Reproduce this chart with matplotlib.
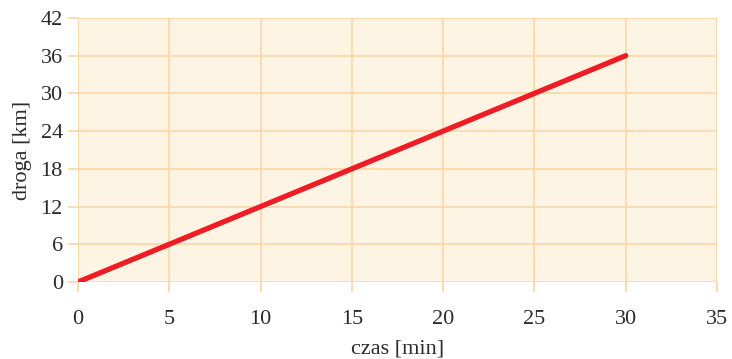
import matplotlib
matplotlib.use("Agg")
import matplotlib.pyplot as plt

# data
czas = [0, 30]          # min
droga = [0, 36]         # km
x_ticks = [0, 5, 10, 15, 20, 25, 30, 35]
y_ticks = [0, 6, 12, 18, 24, 30, 36, 42]

grid_col = "#fdd6a4"
bg_col = "#fdf4e3"

plt.rcParams["font.family"] = ["Liberation Serif", "DejaVu Serif"]

fig = plt.figure(figsize=(7.32, 3.59), dpi=100)
ax = fig.add_axes([0.1066, 0.2145, 0.9795 - 0.1066, 0.950 - 0.2145])
ax.set_facecolor(bg_col)

ax.plot(czas, droga, color="#ee1c25", linewidth=3.8, solid_capstyle="round", zorder=3)

ax.set_xlim(0, 35)
ax.set_ylim(0, 42)
ax.set_xticks(x_ticks)
ax.set_yticks(y_ticks)
ax.grid(True, color=grid_col, linewidth=1.2, zorder=0)
ax.set_axisbelow(True)
for s in ax.spines.values():
    s.set_visible(False)
ax.tick_params(axis="both", colors=grid_col, length=7, width=1.2,
               labelcolor="#2b2b2b", labelsize=16)
ax.tick_params(axis="x", pad=13)
ax.tick_params(axis="y", pad=4)

ax.set_xlabel("czas [min]", fontsize=16, color="#2b2b2b", labelpad=8)
ax.set_ylabel("droga [km]", fontsize=16, color="#2b2b2b", labelpad=6)

fig.savefig("out.png", dpi=100)
